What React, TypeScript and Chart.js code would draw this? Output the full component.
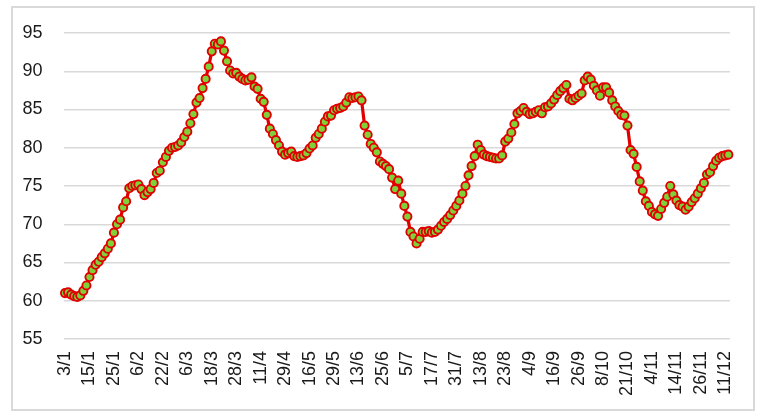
import React, { useEffect, useRef } from "react";
import { Chart, registerables } from "chart.js";

Chart.register(...registerables);

const tickLabels: string[] = [
  "3/1", "15/1", "25/1", "6/2", "22/2", "6/3", "18/3", "28/3", "11/4", "29/4",
  "16/5", "29/5", "13/6", "25/6", "5/7", "17/7", "31/7", "13/8", "23/8", "4/9",
  "16/9", "26/9", "8/10", "21/10", "4/11", "14/11", "26/11", "11/12",
];

const tickEvery = 8;

const seriesValues: number[] = [
  61.0, 61.1, 60.8, 60.6, 60.5, 60.7, 61.3, 62.0, 63.1, 64.0,
  64.7, 65.1, 65.7, 66.2, 66.8, 67.5, 68.9, 70.0, 70.6, 72.2,
  73.0, 74.7, 75.0, 75.1, 75.2, 74.6, 73.8, 74.2, 74.6, 75.4,
  76.7, 77.0, 78.1, 78.8, 79.6, 80.0, 80.1, 80.3, 80.7, 81.4,
  82.1, 83.2, 84.4, 85.9, 86.5, 87.8, 89.0, 90.6, 92.6, 93.6,
  93.5, 93.9, 92.7, 91.3, 90.1, 89.7, 89.8, 89.3, 89.0, 88.8,
  88.9, 89.2, 88.0, 87.7, 86.4, 86.0, 84.3, 82.5, 81.8, 81.0,
  80.3, 79.5, 79.1, 79.3, 79.5, 78.9, 78.8, 78.9, 79.0, 79.3,
  79.9, 80.3, 81.3, 81.8, 82.5, 83.4, 84.1, 84.2, 84.9, 85.1,
  85.2, 85.4, 85.9, 86.6, 86.5, 86.6, 86.7, 86.2, 82.9, 81.7,
  80.5, 80.0, 79.4, 78.2, 77.9, 77.6, 77.2, 76.1, 74.6, 75.7,
  74.0, 72.4, 71.0, 69.0, 68.4, 67.5, 68.1, 69.0, 69.0, 69.1,
  68.9, 69.0, 69.3, 69.8, 70.3, 70.7, 71.2, 71.8, 72.4, 73.1,
  74.0, 75.0, 76.4, 77.6, 78.9, 80.4, 79.7, 79.1, 78.9, 78.8,
  78.7, 78.6, 78.6, 79.0, 80.8, 81.2, 82.0, 83.1, 84.5, 84.8,
  85.2, 84.7, 84.4, 84.5, 84.7, 84.9, 84.5, 85.3, 85.4, 85.8,
  86.3, 86.9, 87.4, 87.8, 88.2, 86.4, 86.2, 86.5, 86.8, 87.1,
  88.8, 89.3, 88.9, 88.1, 87.5, 86.8, 87.9, 87.9, 87.2, 86.2,
  85.4, 84.8, 84.3, 84.2, 82.9, 79.7, 79.2, 77.5, 75.6, 74.4,
  73.0, 72.4, 71.6, 71.3, 71.1, 72.0, 72.8, 73.6, 75.0, 73.9,
  73.1, 72.5, 72.3, 71.9, 72.3, 72.9, 73.4, 74.0, 74.7, 75.4,
  76.5, 76.8, 77.6, 78.3, 78.7, 78.9, 79.0, 79.1,
];

const yMin = 55;
const yMax = 95;
const yStep = 5;

export default function App() {
  const canvasRef = useRef<HTMLCanvasElement | null>(null);

  useEffect(() => {
    if (!canvasRef.current) return;
    const labels = seriesValues.map((_, i) =>
      i % tickEvery === 0 && tickLabels[i / tickEvery] !== undefined ? tickLabels[i / tickEvery] : ""
    );
    const chart = new Chart(canvasRef.current, {
      type: "line",
      data: {
        labels,
        datasets: [
          {
            data: seriesValues,
            borderColor: "#e00000",
            borderWidth: 3.2,
            pointRadius: 4.1,
            pointBorderWidth: 1.9,
            pointBackgroundColor: "#80d03a",
            pointBorderColor: "#e00000",
            tension: 0,
            fill: false,
          },
        ],
      },
      options: {
        responsive: false,
        animation: false,
        layout: { padding: { left: 0, top: 33, right: 17, bottom: 0 } },
        plugins: {
          legend: { display: false },
          tooltip: { enabled: false },
        },
        scales: {
          x: {
            offset: true,
            grid: { display: false, drawTicks: false },
            border: { display: false },
            ticks: {
              autoSkip: false,
              maxRotation: 90,
              minRotation: 90,
              padding: 12,
              color: "#1a1a1a",
              font: { family: "'Liberation Sans', Arial, sans-serif", size: 18 },
            },
            afterFit: (scale: any) => {
              scale.height = 81;
            },
          },
          y: {
            min: yMin,
            max: yMax,
            grid: { color: "#d9d9d9", lineWidth: 1.5, drawTicks: false },
            border: { display: false },
            ticks: {
              stepSize: yStep,
              padding: 21,
              color: "#1a1a1a",
              font: { family: "'Liberation Sans', Arial, sans-serif", size: 18 },
            },
            afterFit: (scale: any) => {
              scale.width = 63.5;
            },
          },
        },
      },
    });
    return () => chart.destroy();
  }, []);

  return (
    <div style={{ position: "fixed", left: 0, top: 0, width: 762, height: 420, background: "#fff" }}>
      <div
        style={{
          position: "absolute",
          left: 11,
          top: 6,
          width: 744,
          height: 405,
          boxSizing: "border-box",
          border: "2px solid #d9d9d9",
        }}
      />
      <canvas ref={canvasRef} width={762} height={420} style={{ position: "absolute", left: 0, top: 0 }} />
    </div>
  );
}
